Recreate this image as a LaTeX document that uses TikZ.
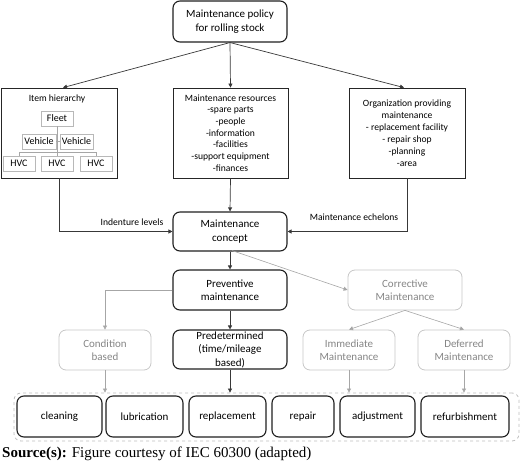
\documentclass[tikz,border=0pt]{standalone}
\usepackage{fontspec}
\setmainfont{Carlito}
\newfontfamily\capfont{Liberation Serif}
\usetikzlibrary{arrows.meta,calc}
\begin{document}
\begin{tikzpicture}[x=1pt,y=-1pt,
  sq/.style={draw=black!85, line width=0.8pt, align=center, inner sep=0pt, font=\fontsize{9.6}{11.7}\selectfont},
  rb/.style={draw=black!88, line width=1.1pt, rounded corners=7pt, align=center, inner sep=0pt, font=\fontsize{11}{13.5}\selectfont},
  gb/.style={draw=black!22, line width=0.8pt, rounded corners=7pt, align=center, inner sep=0pt, text=black!48, font=\fontsize{11}{13.5}\selectfont},
  hb/.style={draw=black!28, line width=0.6pt, inner sep=0pt, minimum height=15pt, font=\fontsize{10}{12}\selectfont},
  arr/.style={draw=black!78, line width=0.7pt, -{Triangle[length=4pt,width=4pt]}},
  garr/.style={draw=black!35, line width=0.6pt, -{Triangle[length=4pt,width=4pt]}},
  tline/.style={draw=black!35, line width=0.5pt},
  lbl/.style={font=\fontsize{9.6}{11.7}\selectfont, inner sep=0pt}]
\useasboundingbox (0,0) rectangle (520,465);

% top
\node[rb, minimum width=114pt, minimum height=41pt] (policy) at (230,21.5) {Maintenance policy\\for rolling stock};

% second row
\node[sq, minimum width=116pt, minimum height=90pt] (item) at (59,133) {};
\node[lbl] (itemt) at (57,99) {Item hierarchy};
\node[hb, minimum width=32pt] (fleet) at (57,118.5) {Fleet};
\node[hb, minimum width=34pt] (veh1) at (39,141.5) {Vehicle};
\node[hb, minimum width=33pt] (veh2) at (76.5,141.5) {Vehicle};
\node[hb, minimum width=32pt] (hvc1) at (19,163.5) {HVC};
\node[hb, minimum width=32pt] (hvc2) at (57,163.5) {HVC};
\node[hb, minimum width=32pt] (hvc3) at (96,163.5) {HVC};
\coordinate (tl) at (19,152);
\coordinate (tr) at (96,152);
\draw[tline] (fleet.south) -- (hvc2.north);
\draw[tline] (veh1.east) -- (veh2.west);
\draw[tline] (hvc1.north) -- (tl) -- (tr) -- (hvc3.north);

\node[sq, minimum width=115pt, minimum height=90pt] (res) at (230.5,133) {Maintenance resources\\-spare parts\\-people\\-information\\-facilities\\-support equipment\\-finances};
\node[sq, minimum width=116pt, minimum height=90pt, font=\fontsize{9.6}{12}\selectfont] (org) at (407,133) {Organization providing\\maintenance\\- replacement facility\\- repair shop\\-planning\\-area};

% concept
\node[rb, minimum width=114pt, minimum height=39pt] (concept) at (230,231.5) {Maintenance\\concept};
\node[rb, minimum width=114pt, minimum height=40pt] (prev) at (230,290) {Preventive\\maintenance};
\node[rb, minimum width=114pt, minimum height=39pt] (pred) at (230,349.5) {Predetermined\\(time/mileage\\based)};
\node[gb, minimum width=114pt, minimum height=40pt] (corr) at (405,290) {Corrective\\Maintenance};
\node[gb, minimum width=92pt, minimum height=40pt] (imm) at (349,350) {Immediate\\Maintenance};
\node[gb, minimum width=92pt, minimum height=40pt] (def) at (464,350) {Deferred\\Maintenance};
\node[gb, minimum width=92pt, minimum height=40pt] (cond) at (105,350) {Condition\\based};

% container
\node[draw=black!25, dashed, line width=0.8pt, rounded corners=7pt, minimum width=505pt, minimum height=48pt, inner sep=0pt] (cont) at (266.5,417) {};
\node[rb, minimum width=85pt, minimum height=41pt] (a1) at (59.5,416.5) {cleaning};
\node[rb, minimum width=77pt, minimum height=41pt] (a2) at (144.5,416.5) {lubrication};
\node[rb, minimum width=77pt, minimum height=41pt] (a3) at (227.5,416.5) {replacement};
\node[rb, minimum width=62pt, minimum height=41pt] (a4) at (303,416.5) {repair};
\node[rb, minimum width=75pt, minimum height=41pt] (a5) at (377.5,416.5) {adjustment};
\node[rb, minimum width=88pt, minimum height=41pt] (a6) at (465,416.5) {refurbishment};

% arrows
\draw[arr] (policy.south) -- ($(item.north)+(4,0)$);
\draw[arr] (policy.south) -- (res.north);
\draw[arr] (policy.south) -- ($(org.north)+(-3,0)$);
\draw[arr] (item.south) |- (concept.west);
\draw[arr] (org.south) |- (concept.east);
\node[lbl] (lind) at (132,222) {Indenture levels};
\node[lbl] (lech) at (354,217) {Maintenance echelons};
\draw[arr] (res.south) -- (concept.north);
\draw[arr] (concept.south) -- (prev.north);
\draw[garr] ($(concept.south)+(2,-1)$) -- (corr.west);
\draw[arr] (prev.south) -- (pred.north);
\draw[garr] (prev.west) -| (cond.north);
\draw[garr] (corr.south) -- (imm.north);
\draw[garr] (corr.south) -- (def.north);
\draw[garr] (cond.south) -- (cond.south |- cont.north);
\draw[arr] (pred.south) -- (pred.south |- cont.north);
\draw[garr] (imm.south) -- (imm.south |- cont.north);
\draw[garr] (def.south) -- (def.south |- cont.north);

% caption
\node[anchor=base west, inner sep=0pt, font=\capfont\fontsize{15}{18}\selectfont] (cap) at (2,457) {\textbf{Source(s):} Figure courtesy of IEC 60300 (adapted)};
\end{tikzpicture}
\end{document}
